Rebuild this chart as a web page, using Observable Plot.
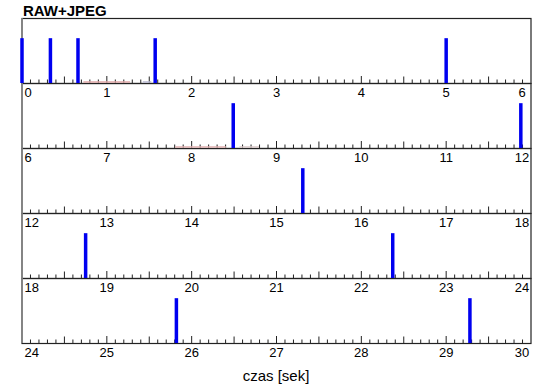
<!DOCTYPE html>
<html>
<head>
<meta charset="utf-8">
<script src="https://cdn.jsdelivr.net/npm/d3@7"></script>
<script src="https://cdn.jsdelivr.net/npm/@observablehq/plot@0.6"></script>
<style>
  body { margin: 0; background: #fff; }
  #chart svg { display: block; font-family: "Liberation Sans", Arial, Helvetica, sans-serif; }
</style>
</head>
<body>
<div id="chart"></div>
<script>
// ---- data ----
const title = "RAW+JPEG";
const xLabel = "czas [sek]";
const rowStarts = [0, 6, 12, 18, 24];          // each row shows 6 seconds
const rowSpan = 6;
const eventTimes = [0, 0.335, 0.66, 1.57, 5.0, 8.49, 11.88, 15.31, 18.75, 22.37, 25.82, 29.28];
const eventValues = [1, 1, 1, 1, 1, 1, 1, 1, 1, 1, 1, 1];
const faintStart = [0.73, 1.43, 7.81, 8.57];
const faintEnd   = [1.28, 1.53, 8.41, 8.80];
const faintColor = ["#e0a8a8", "#b8b8d0", "#e0b0b0", "#d8c8c8"];
const tickLabelOffsets = [0, 1, 2, 3, 4, 5, 6];

// ---- derived tables ----
const rowOf = t => Math.min(rowStarts.length - 1, Math.floor(t / rowSpan));
const events = eventTimes.map((t, i) => ({row: rowOf(t), x: t - rowStarts[rowOf(t)], v: eventValues[i]}));
const faint = faintStart.map((s, i) => ({row: rowOf(s), x1: s - rowStarts[rowOf(s)], x2: faintEnd[i] - rowStarts[rowOf(s)], c: faintColor[i]}));
const labels = rowStarts.flatMap((s, row) => tickLabelOffsets.map(k => ({row, k, text: String(s + k)})));
const minorTicks = d3.range(1, 60).filter(i => i % 5 !== 0).map(i => i / 10);
const halfTicks = d3.range(0, 6).map(i => i + 0.5);
const intTicks = d3.range(1, 6);

const W = 550, H = 389, mT = 18, mB = 46, mL = 21.5, mR = 19.5;
const facetH = (H - mT - mB) / rowStarts.length;
const FONT = "Liberation Sans, Arial, Helvetica, sans-serif";

const chart = Plot.plot({
  width: W, height: H,
  marginTop: mT, marginBottom: mB, marginLeft: mL, marginRight: mR,
  x: {domain: [0, rowSpan], axis: null},
  y: {domain: [0, 1.45], axis: null},
  fy: {domain: rowStarts.map((_, i) => i), padding: 0, axis: null},
  style: {fontFamily: FONT},
  marks: [
    Plot.frame({stroke: "#222", strokeWidth: 1.2}),
    Plot.ruleX([0], {stroke: "#888", strokeWidth: 1.6}),
    Plot.tickX(minorTicks, {x: d => d, stroke: "#222", strokeWidth: 1, insetTop: facetH - 3.5}),
    Plot.tickX(halfTicks, {x: d => d, stroke: "#222", strokeWidth: 1, insetTop: facetH - 6.5}),
    Plot.tickX(intTicks, {x: d => d, stroke: "#222", strokeWidth: 1, insetTop: facetH - 7}),
    Plot.ruleY(faint, {fy: "row", x1: "x1", x2: "x2", y: 0, dy: -1.5, stroke: "c", strokeWidth: 1.5}),
    Plot.ruleX(events, {fy: "row", x: "x", y1: 0, y2: "v", stroke: "#0000f0", strokeWidth: 3.5}),
    Plot.text(labels.filter(d => d.k === 0), {fy: "row", x: "k", y: 0, text: "text", textAnchor: "start", lineAnchor: "top", dx: 2.5, dy: 4.5, fontSize: 13, fill: "#000"}),
    Plot.text(labels.filter(d => d.k > 0 && d.k < 6), {fy: "row", x: "k", y: 0, text: "text", textAnchor: "middle", lineAnchor: "top", dy: 4.5, fontSize: 13, fill: "#000"}),
    Plot.text(labels.filter(d => d.k === 6), {fy: "row", x: "k", y: 0, text: "text", textAnchor: "middle", lineAnchor: "top", dx: -9, dy: 4.5, fontSize: 13, fill: "#000"})
  ]
});

const svg = d3.select(chart);
svg.append("text")
  .attr("x", 23).attr("y", 16)
  .attr("text-anchor", "start")
  .attr("font-size", 15).attr("font-weight", "bold")
  .attr("font-family", FONT)
  .attr("fill", "#000")
  .text(title);
svg.append("text")
  .attr("x", (mL + (W - mR)) / 2).attr("y", 381)
  .attr("text-anchor", "middle")
  .attr("font-size", 15)
  .attr("font-family", FONT)
  .attr("fill", "#000")
  .text(xLabel);

document.getElementById("chart").appendChild(chart);
</script>
</body>
</html>
